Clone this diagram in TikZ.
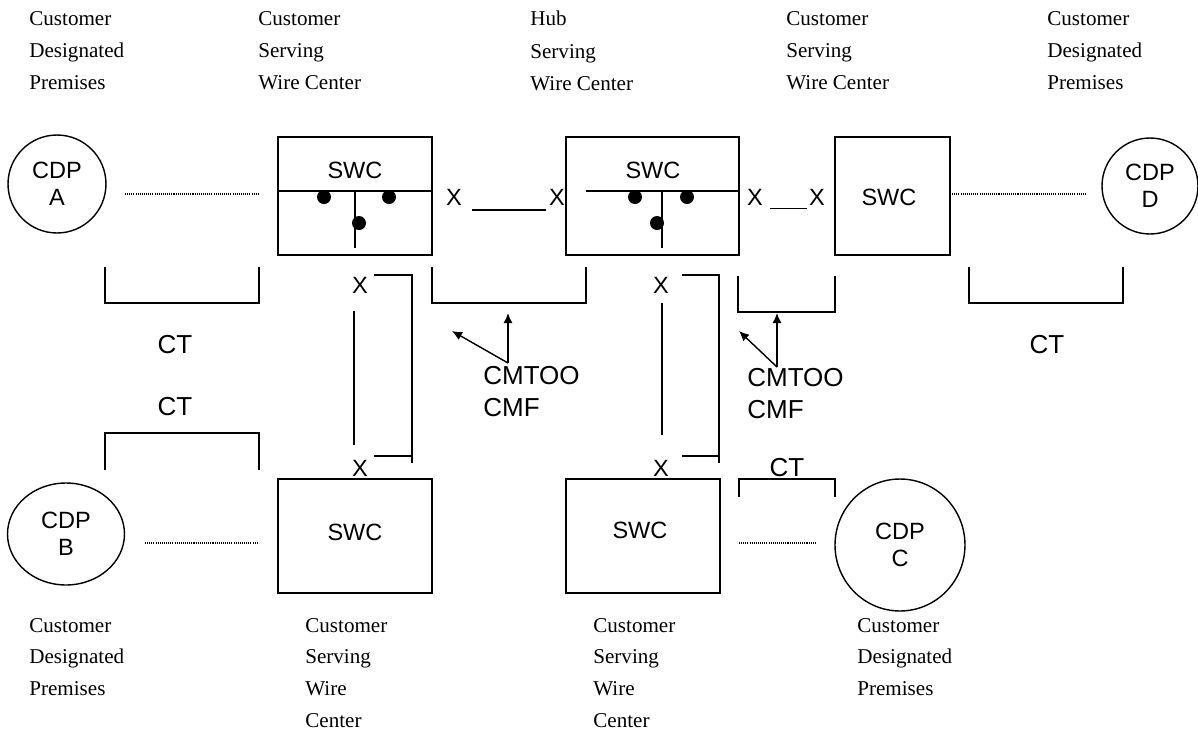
\documentclass[tikz,border=0pt]{standalone}
\usepackage{fontspec}
\setmainfont{Liberation Serif}
\setsansfont{Liberation Sans}
\usetikzlibrary{positioning, arrows.meta, shapes.geometric}

\tikzset{
  place/.style={font=\fontsize{12}{18.4}\selectfont, align=left, anchor=north west, inner sep=0pt},
  placelow/.style={place, font=\fontsize{12}{18}\selectfont},
  sw/.style={font=\sffamily\fontsize{13.4}{15.5}\selectfont, inner sep=0pt},
  tag/.style={font=\sffamily\fontsize{14.8}{18.1}\selectfont, inner sep=0pt, align=left},
  swcbox/.style={draw, line width=0.8pt, rectangle, inner sep=0pt},
  cdp/.style={draw, line width=0.8pt, align=center, inner sep=0pt,
    font=\sffamily\fontsize{13.4}{15.5}\selectfont},
  brk/.style={line width=1pt},
  dotln/.style={line width=0.7pt, dash pattern=on 0.6pt off 0.6pt},
  jdot/.style={fill, circle, minimum size=0.28cm, inner sep=0pt},
  ptr/.style={line width=0.8pt, -{Latex[length=0.2cm, width=0.18cm]}}
}

\begin{document}
\begin{tikzpicture}[x=0.02cm, y=-0.02cm]
\useasboundingbox (0,0) rectangle (1198,731);

% Titel oben
\node[place] (t1) at (29,11) {Customer\\Designated\\Premises};
\node[place] (t2) at (258,11) {Customer\\Serving\\Wire Center};
\node[place] (t3) at (530,11) {Hub\\Serving\\Wire Center};
\node[place] (t4) at (786,11) {Customer\\Serving\\Wire Center};
\node[place] (t5) at (1047,11) {Customer\\Designated\\Premises};

% Titel unten
\node[placelow] (b1) at (29,618) {Customer\\Designated\\Premises};
\node[placelow] (b2) at (305,618) {Customer\\Serving\\Wire\\Center};
\node[placelow] (b3) at (593,618) {Customer\\Serving\\Wire\\Center};
\node[placelow] (b4) at (857,618) {Customer\\Designated\\Premises};

% Kunden
\node[cdp, circle, minimum size=1.96cm] (cdpA) at (57,184) {CDP\\A};
\node[cdp, circle, minimum size=1.92cm] (cdpD) at (1150,186) {CDP\\D};
\node[cdp, ellipse, minimum width=2.34cm, minimum height=2.04cm] (cdpB) at (66,534) {CDP\\B};
\node[cdp, ellipse, minimum width=2.6cm, minimum height=2.64cm] (cdpC) at (900,545) {CDP\\C};

% Zentralen
\node[swcbox, minimum width=3.08cm, minimum height=2.36cm] (swc1) at (355,196) {};
\node[sw] (swc1t) at (355,170) {SWC};
\node[swcbox, minimum width=3.46cm, minimum height=2.36cm] (hub) at (652.5,196) {};
\node[sw] (hubt) at (653,170) {SWC};
\node[swcbox, minimum width=2.3cm, minimum height=2.36cm] (swc3) at (892.5,196) {};
\node[sw] (swc3t) at (889,197) {SWC};
\node[swcbox, minimum width=3.08cm, minimum height=2.28cm] (swc4) at (355,536) {};
\node[sw] (swc4t) at (355,532) {SWC};
\node[swcbox, minimum width=3.08cm, minimum height=2.28cm] (swc5) at (643,536) {};
\node[sw] (swc5t) at (640,530) {SWC};

% Verteiler in den Zentralen
\draw[line width=0.8pt] (278,191) -- (432,191) (355,191) -- (355,248);
\node[jdot] (d1) at (324,197) {};
\node[jdot] (d2) at (389,197) {};
\node[jdot] (d3) at (359,223) {};
\draw[line width=0.8pt] (586,191) -- (739,191) (662,191) -- (662,248);
\node[jdot] (d4) at (635,197) {};
\node[jdot] (d5) at (687,197) {};
\node[jdot] (d6) at (657,223) {};

% Kreuzverbindungen
\node[sw] (x1) at (454,197) {X};
\node[sw] (x2) at (557,197) {X};
\node[sw] (x3) at (755,197) {X};
\node[sw] (x4) at (817,197) {X};
\node[sw] (x5) at (360,285) {X};
\node[sw] (x6) at (360,468) {X};
\node[sw] (x7) at (661,285) {X};
\node[sw] (x8) at (661,468) {X};
\draw[brk] ([xshift=0.2cm, yshift=-0.09cm]x1.south east) -- ([xshift=-0.06cm, yshift=-0.09cm]x2.south west);
\draw[brk] ([xshift=0.14cm, yshift=-0.06cm]x3.south east) -- ([xshift=-0.04cm, yshift=-0.06cm]x4.south west);
\draw[brk] ([xshift=-0.12cm, yshift=-0.36cm]x5.south) -- ([xshift=-0.12cm, yshift=0.3cm]x6.north);
\draw[brk] ([xshift=0.02cm, yshift=-0.2cm]x7.south) -- ([xshift=0.02cm, yshift=0.5cm]x8.north);

% Rahmen rechts der Verbindungen
\draw[brk] (374,275) -- (412,275) -- (412,463) (374,456) -- (412,456);
\draw[brk] (682,275) -- (719,275) -- (719,463) (682,456) -- (719,456);

% Kundenleitungen
\coordinate (la1) at (125,194); \coordinate (la2) at (258,194);
\coordinate (ld1) at (950,194); \coordinate (ld2) at (1085,194);
\coordinate (lb1) at (145,543); \coordinate (lb2) at (258,543);
\coordinate (lc1) at (739,543); \coordinate (lc2) at (816,543);
\draw[dotln] (la1) -- (la2);
\draw[dotln] (ld1) -- (ld2);
\draw[dotln] (lb1) -- (lb2);
\draw[dotln] (lc1) -- (lc2);

% Klammern
\draw[brk] (105,267) -- (105,303) -- (259,303) -- (259,267);
\draw[brk] (969,267) -- (969,303) -- (1123,303) -- (1123,267);
\draw[brk] (432,267) -- (432,303) -- (586,303) -- (586,267);
\draw[brk] (738,276) -- (738,312) -- (835,312) -- (835,276);
\draw[brk] (105,470) -- (105,433) -- (259,433) -- (259,470);
\draw[brk] (739,497) -- (739,479) -- (835,479) -- (835,497);

\node[tag] (ct1) at (175,345) {CT};
\node[tag] (ct2) at (175,407) {CT};
\node[tag] (ct3) at (1047,345) {CT};
\node[tag] (ct4) at (787,468) {CT};

% CMTOO / CMF
\node[tag, anchor=north west] (cm1) at (483,366) {CMTOO\\CMF};
\node[tag, anchor=north west] (cm2) at (747,368) {CMTOO\\CMF};
\coordinate (p1) at (508,363); \coordinate (q1) at (508,313); \coordinate (r1) at (452,331);
\coordinate (p2) at (777,367); \coordinate (q2) at (777,313); \coordinate (r2) at (739,331);
\draw[ptr] (p1) -- (q1);
\draw[ptr] (p1) -- (r1);
\draw[ptr] (p2) -- (q2);
\draw[ptr] (p2) -- (r2);
\end{tikzpicture}
\end{document}
